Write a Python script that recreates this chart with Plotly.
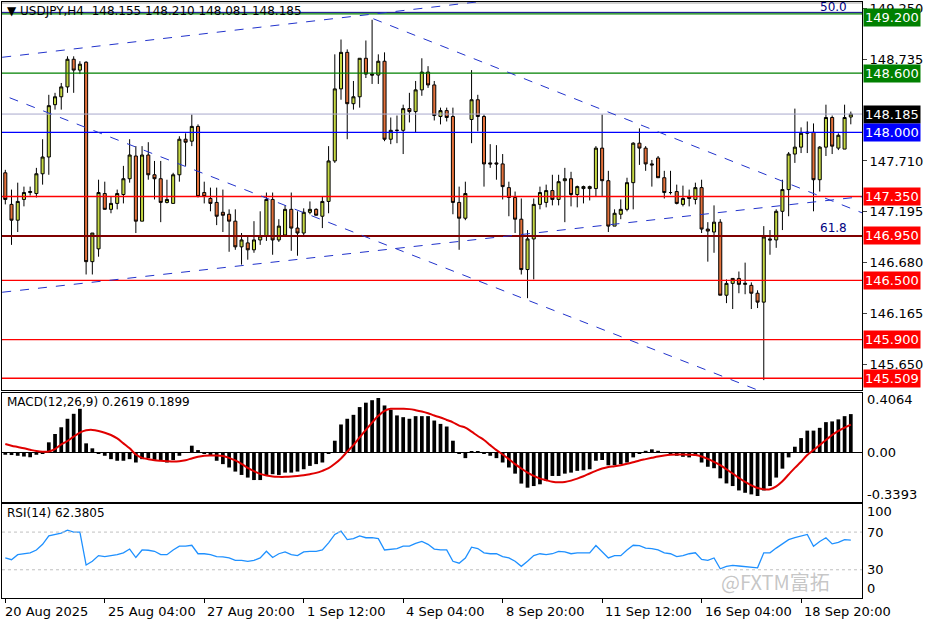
import plotly.graph_objects as go
from plotly.subplots import make_subplots

# ---------------- DATA ----------------
candles = [
(147.59,147.62,147.27,147.32),(147.27,147.42,146.86,147.11),(147.11,147.49,146.99,147.30),(147.32,147.45,147.25,147.39),
(147.39,147.45,147.36,147.40),(147.38,147.64,147.34,147.58),(147.58,147.93,147.47,147.75),(147.75,148.38,147.57,148.27),
(148.28,148.40,148.23,148.36),(148.36,148.50,148.23,148.46),(148.46,148.77,148.40,148.74),(148.74,148.77,148.40,148.63),
(148.63,148.72,148.59,148.69),(148.71,148.72,146.56,146.69),(146.69,146.98,146.56,146.98),(146.82,147.52,146.74,147.39),
(147.38,147.50,147.22,147.22),(147.22,147.35,147.18,147.28),(147.28,147.42,147.22,147.38),(147.37,147.66,147.28,147.53),
(147.53,147.93,147.49,147.77),(147.76,147.86,146.98,147.10),(147.10,147.86,147.10,147.77),(147.77,147.90,147.52,147.57),
(147.57,147.71,147.32,147.53),(147.53,147.71,147.09,147.29),(147.29,147.52,147.28,147.32),(147.28,147.59,147.28,147.57),
(147.57,147.96,147.50,147.93),(147.93,147.99,147.66,147.90),(147.91,148.18,147.86,148.06),(148.06,148.08,147.34,147.35),
(147.39,147.50,147.28,147.35),(147.33,147.44,147.20,147.28),(147.29,147.44,147.06,147.15),
(147.19,147.42,146.99,147.16),(147.17,147.22,146.79,147.10),(147.10,147.22,146.81,146.84),(146.84,146.98,146.66,146.91),
(146.88,146.96,146.71,146.81),(146.81,147.10,146.78,146.91),(146.91,147.20,146.86,146.95),(146.95,147.39,146.90,147.32),
(147.32,147.39,146.76,146.91),(146.91,147.12,146.89,147.05),(146.96,147.26,146.95,147.22),(147.22,147.39,146.80,147.03),
(147.03,147.20,146.75,146.98),(146.98,147.23,146.95,147.19),(147.19,147.30,147.17,147.22),(147.22,147.23,147.16,147.16),
(147.15,147.35,147.03,147.30),(147.30,147.86,147.18,147.71),(147.71,148.79,147.69,148.44),(148.44,148.94,148.33,148.81),
(148.81,148.84,147.93,148.29),(148.29,148.52,148.23,148.36),(148.36,148.75,148.25,148.75),(148.75,148.93,148.55,148.59),
(148.59,149.14,148.49,148.58),(148.58,148.79,148.49,148.72),(148.72,148.81,147.91,147.93),(147.93,148.15,147.88,148.02),
(148.02,148.17,147.89,148.02),(148.02,148.28,147.78,148.24),(148.24,148.40,148.10,148.21),(148.21,148.52,148.00,148.43),
(148.43,148.75,148.37,148.61),(148.61,148.67,148.45,148.48),
(148.48,148.52,148.12,148.17),(148.16,148.25,148.08,148.22),(148.22,148.25,148.11,148.15),(148.16,148.25,147.17,147.29),
(147.29,147.45,146.81,147.13),(147.13,147.50,147.11,147.38),(148.13,148.63,147.89,148.33),(148.33,148.38,148.01,148.16),
(148.16,148.18,147.45,147.68),(147.69,147.88,147.64,147.68),(147.69,147.87,147.52,147.68),(147.68,147.78,147.32,147.45),
(147.44,147.50,147.15,147.34),(147.34,147.40,146.98,147.12),(147.12,147.33,146.56,146.61),(146.61,147.01,146.32,146.92),
(146.92,147.33,146.51,147.27),(147.27,147.45,147.22,147.39),(147.29,147.47,147.24,147.41),(147.41,147.57,147.26,147.32),
(147.32,147.57,147.26,147.50),(147.51,147.64,147.09,147.53),(147.53,147.60,147.25,147.37),(147.37,147.46,147.24,147.45),
(147.43,147.46,147.28,147.45),(147.43,147.46,147.31,147.45),(147.43,147.86,147.35,147.84),(147.84,148.18,147.35,147.51),
(147.51,147.61,146.99,147.05),(147.05,147.22,147.05,147.18),(147.17,147.32,147.12,147.22),(147.22,147.54,147.20,147.49),
(147.49,147.90,147.22,147.89),(147.89,148.04,147.67,147.84),
(147.84,147.86,147.61,147.68),(147.68,147.72,147.45,147.67),(147.74,147.76,147.54,147.54),(147.54,147.61,147.33,147.39),
(147.39,147.61,147.37,147.39),(147.40,147.47,147.27,147.28),(147.27,147.46,147.25,147.33),(147.33,147.42,147.25,147.35),
(147.32,147.49,147.27,147.44),(147.44,147.52,146.98,147.02),(147.02,147.09,146.69,147.00),(146.99,147.26,146.78,147.09),
(147.09,147.12,146.35,146.35),(146.35,146.51,146.27,146.47),(146.47,146.52,146.21,146.52),(146.52,146.59,146.37,146.46),
(146.46,146.68,146.36,146.47),(146.45,146.48,146.21,146.37),(146.37,146.40,146.22,146.28),(146.28,147.05,145.49,146.94),
(146.92,147.01,146.76,146.91),(146.91,147.22,146.83,147.20),(147.20,147.52,147.01,147.42),(147.42,147.80,147.15,147.78),
(147.78,148.24,147.69,147.85),(147.85,148.05,147.79,147.99),(147.99,148.11,147.79,148.00),(148.00,148.09,147.20,147.52),
(147.52,147.86,147.40,147.85),(147.85,148.28,147.76,148.15),(148.15,148.17,147.78,147.86),(147.84,147.99,147.82,147.97),
(147.83,148.28,147.83,148.15),(148.155,148.210,148.081,148.185),
]
opens = [c[0] for c in candles]
highs = [c[1] for c in candles]
lows = [c[2] for c in candles]
closes = [c[3] for c in candles]

macd_hist = [
-0.016,-0.018,-0.023,-0.028,-0.033,-0.016,-0.004,0.069,0.126,0.172,0.23,0.264,0.298,0.062,0.028,-0.005,-0.023,-0.046,
-0.057,-0.057,-0.046,-0.069,-0.046,-0.039,-0.051,-0.057,-0.069,-0.052,-0.023,0.0,0.046,0.016,-0.011,-0.023,-0.057,-0.08,
-0.103,-0.131,-0.154,-0.172,-0.189,-0.189,-0.161,-0.149,-0.154,-0.138,-0.138,-0.131,-0.115,-0.092,-0.08,-0.069,-0.011,
0.08,0.191,0.23,0.257,0.31,0.34,0.357,0.372,0.321,0.292,0.253,0.241,0.23,0.248,0.248,0.248,0.218,0.195,0.177,0.08,-0.008,
-0.039,0.004,0.004,-0.005,-0.023,-0.039,-0.069,-0.103,-0.145,-0.213,-0.241,-0.23,-0.218,-0.195,-0.161,-0.161,-0.145,
-0.138,-0.126,-0.122,-0.115,-0.057,-0.052,-0.088,-0.088,-0.08,-0.069,-0.034,-0.005,0.011,0.021,0.011,0.0,-0.011,-0.023,
-0.03,-0.034,-0.023,-0.069,-0.098,-0.108,-0.177,-0.212,-0.23,-0.26,-0.276,-0.287,-0.298,-0.26,-0.23,-0.172,-0.111,
-0.034,0.039,0.098,0.149,0.149,0.168,0.207,0.212,0.226,0.248,0.262]

macd_signal = [
0.057,0.046,0.037,0.028,0.018,0.009,0.005,0.007,0.023,0.055,0.078,0.108,0.135,0.151,0.154,0.147,0.135,0.119,0.096,0.062,
0.028,-0.014,-0.037,-0.046,-0.053,-0.057,-0.06,-0.062,-0.06,-0.053,-0.041,-0.03,-0.023,-0.021,-0.021,-0.025,-0.037,
-0.055,-0.078,-0.105,-0.128,-0.147,-0.158,-0.165,-0.167,-0.167,-0.165,-0.161,-0.156,-0.149,-0.14,-0.126,-0.108,-0.078,
-0.041,0.005,0.05,0.103,0.154,0.204,0.25,0.284,0.298,0.298,0.298,0.296,0.289,0.28,0.268,0.252,0.239,0.222,0.206,0.183,
0.17,0.142,0.112,0.085,0.05,0.016,-0.014,-0.046,-0.08,-0.11,-0.138,-0.161,-0.179,-0.19,-0.2,-0.204,-0.202,-0.193,-0.179,
-0.163,-0.144,-0.126,-0.11,-0.099,-0.094,-0.087,-0.078,-0.067,-0.055,-0.046,-0.037,-0.028,-0.021,-0.016,-0.014,-0.014,
-0.016,-0.018,-0.028,-0.044,-0.064,-0.087,-0.115,-0.144,-0.174,-0.202,-0.225,-0.243,-0.252,-0.252,-0.232,-0.197,-0.151,
-0.106,-0.064,-0.018,0.016,0.05,0.085,0.119,0.147,0.17,0.19]

rsi = [
42.5,40.7,46,47,48,51,57,66,67.5,69,72,70,70,35,39,45,44,45,46,48,52,43,51,50.7,49.6,46,46,51,55,55,56,47,47,46,44,43.6,
42.5,40,40,39,40,42.5,49.6,43,47,49,46,45,49,49.6,49.6,51,58.6,67.5,71,62,63,66,64,64,63,51,52,52.5,55,55,58,60,57,52,
51,51,39,37,
42.5,54,52.5,48,47,47,44,42.5,39,33.6,39,45,47,46,47,49.6,49,47,48,48,48,55.7,49.6,42.5,45,45,51,56,55.7,53,52.5,51,48,
47,44,45,47,48,41,40,42.5,31,33.6,34.6,34,33.6,33,32,48,48,53,57.5,62,64,66,67.5,55,60,64,57.5,59,62,61.4]

x_tick_bars = [0, 16, 32, 48, 64, 80, 96, 112, 128]
x_tick_labels = ["20 Aug 2025", "25 Aug 04:00", "27 Aug 20:00", "1 Sep 12:00", "4 Sep 04:00",
                 "8 Sep 20:00", "11 Sep 12:00", "16 Sep 04:00", "18 Sep 20:00"]

price_ticks = [149.250, 148.735, 147.710, 147.195, 146.680, 146.165, 145.650]
levels = [149.200, 148.600, 148.185, 148.000, 147.350, 146.950, 146.500, 145.900, 145.509]
level_colors = ["#008000", "#008000", "#000000", "#0000ff", "#ff0000", "#ff0000", "#ff0000", "#ff0000", "#ff0000"]
level_line_colors = ["#008000", "#008000", "#a8a8cc", "#0000ff", "#ff0000", "#800000", "#ff0000", "#ff0000", "#ff0000"]

# trendlines: (bar0, price0, bar1, price1)
trendlines = [(-0.5, 148.76, 78.5, 149.34), (59.2, 149.15, 138, 147.18),
              (0.7, 148.35, 121, 145.39), (-0.5, 146.38, 138, 147.35)]

n = len(candles)
xs = list(range(n))

fig = make_subplots(rows=3, cols=1, shared_xaxes=True, vertical_spacing=0.0)
fig.add_trace(go.Candlestick(x=xs, open=opens, high=highs, low=lows, close=closes,
    increasing=dict(line=dict(color="black", width=1), fillcolor="#c5d843"),
    decreasing=dict(line=dict(color="black", width=1), fillcolor="#e2703a"),
    whiskerwidth=0, showlegend=False, hoverinfo="skip"), row=1, col=1)
fig.add_trace(go.Bar(x=list(range(len(macd_hist))), y=macd_hist, marker_color="black",
    marker_line_width=0, width=0.6, showlegend=False), row=2, col=1)
fig.add_trace(go.Scatter(x=list(range(len(macd_signal))), y=macd_signal, mode="lines",
    line=dict(color="#e00000", width=2), line_shape="spline", showlegend=False), row=2, col=1)
fig.add_trace(go.Scatter(x=list(range(len(rsi))), y=rsi, mode="lines",
    line=dict(color="#1e90ff", width=1.3), showlegend=False), row=3, col=1)

xr = [-0.53, 137.8]
font = "DejaVu Sans"
fig.update_layout(width=936, height=624, margin=dict(l=2, r=74, t=2, b=26),
    paper_bgcolor="white", plot_bgcolor="white", bargap=0.3,
    font=dict(family=font, size=12, color="black"))
for i, dom in enumerate([[0.349, 1.0], [0.161, 0.344], [0.0, 0.158]], start=1):
    fig.update_layout(**{f"yaxis{'' if i == 1 else i}": dict(domain=dom)})
    fig.update_xaxes(range=xr, showgrid=False, zeroline=False, showline=True, mirror=True,
        linecolor="black", linewidth=1, rangeslider_visible=False, showticklabels=False, row=i, col=1)
fig.update_xaxes(tickvals=x_tick_bars, ticks="outside", ticklen=4, tickcolor="black", row=3, col=1)

fig.update_yaxes(range=[145.39, 149.32], side="right", tickvals=price_ticks,
    ticktext=[f"{v:.3f}" for v in price_ticks], ticks="outside", ticklen=4, showgrid=False,
    zeroline=False, showline=True, mirror=True, linecolor="black", tickfont=dict(size=13), row=1, col=1)
fig.update_yaxes(range=[-0.3393, 0.4064], side="right", showticklabels=False, showgrid=False,
    zeroline=True, zerolinecolor="black", zerolinewidth=1, showline=True, mirror=True, linecolor="black", row=2, col=1)
fig.update_yaxes(range=[0, 100], side="right", showticklabels=False, showgrid=False, zeroline=False,
    showline=True, mirror=True, linecolor="black", row=3, col=1)

for lv, lc in zip(levels, level_line_colors):
    fig.add_shape(type="line", xref="x", yref="y", x0=xr[0], x1=xr[1], y0=lv, y1=lv,
        line=dict(color=lc, width=2 if lc == "#800000" else 1.3 if lc != "#a8a8cc" else 1))
fig.add_shape(type="line", xref="x", yref="y", x0=xr[0], x1=xr[1], y0=149.215, y1=149.215, line=dict(color="#000080", width=1))
fig.add_shape(type="line", xref="x", yref="y", x0=xr[0], x1=xr[1], y0=149.31, y1=149.31, line=dict(color="#a0a0a0", width=1))
for b0, p0, b1, p1 in trendlines:
    fig.add_shape(type="line", xref="x", yref="y", x0=b0, y0=p0, x1=b1, y1=p1,
        line=dict(color="#2233cc", width=1, dash="dash"))
for rv in (70, 30):
    fig.add_shape(type="line", xref="x3", yref="y3", x0=xr[0], x1=xr[1], y0=rv, y1=rv,
        line=dict(color="#c0c0c0", width=1, dash="dot"))

for lv, bc in zip(levels, level_colors):
    fig.add_annotation(xref="paper", yref="y", x=1.0, y=lv, xanchor="left", xshift=1, yshift=-4 if lv == 149.2 else 0,
        text=f"{lv:.3f}", showarrow=False, bgcolor=bc, font=dict(color="white", size=13, family=font), borderpad=1)

fig.add_annotation(xref="paper", yref="y", x=0.985, y=149.27, text="50.0", showarrow=False, xanchor="right",
    font=dict(color="#000080", size=12))
fig.add_annotation(xref="paper", yref="y", x=0.985, y=147.03, text="61.8", showarrow=False, xanchor="right",
    font=dict(color="#000080", size=12))

fig.add_annotation(xref="paper", yref="paper", x=0.003, y=1.0, xanchor="left", yanchor="top", showarrow=False,
    text="▼ USDJPY,H4  148.155 148.210 148.081 148.185", font=dict(size=12))
fig.add_annotation(xref="paper", yref="paper", x=0.003, y=0.344, xanchor="left", yanchor="top", showarrow=False,
    text="MACD(12,26,9) 0.2619 0.1899", font=dict(size=12))
fig.add_annotation(xref="paper", yref="paper", x=0.003, y=0.158, xanchor="left", yanchor="top", showarrow=False,
    text="RSI(14) 62.3805", font=dict(size=12))

for txt, yy, yref in [("0.4064", 0.36, "y2"), ("0.00", 0.0, "y2"), ("-0.3393", -0.29, "y2"),
                      ("100", 92, "y3"), ("70", 70, "y3"), ("30", 30, "y3"), ("0", 10, "y3")]:
    fig.add_annotation(xref="paper", yref=yref, x=1.0, y=yy, xanchor="left", xshift=3, text=txt,
        showarrow=False, font=dict(size=13))

for b, t in zip(x_tick_bars, x_tick_labels):
    fig.add_annotation(xref="x3", yref="paper", x=b, y=0, yanchor="top", yshift=-4, xanchor="left",
        xshift=-2 if b == 0 else 1, text=t, showarrow=False, font=dict(size=13))

fig.add_annotation(xref="paper", yref="paper", x=0.965, y=0.0, yanchor="bottom", text="@FXTM富拓", showarrow=False,
    font=dict(size=20, color="rgba(150,150,150,0.55)", family="Noto Sans CJK SC"))

fig.write_html("out.html", config={"displayModeBar": False}, post_script="document.body.style.margin='0';")
